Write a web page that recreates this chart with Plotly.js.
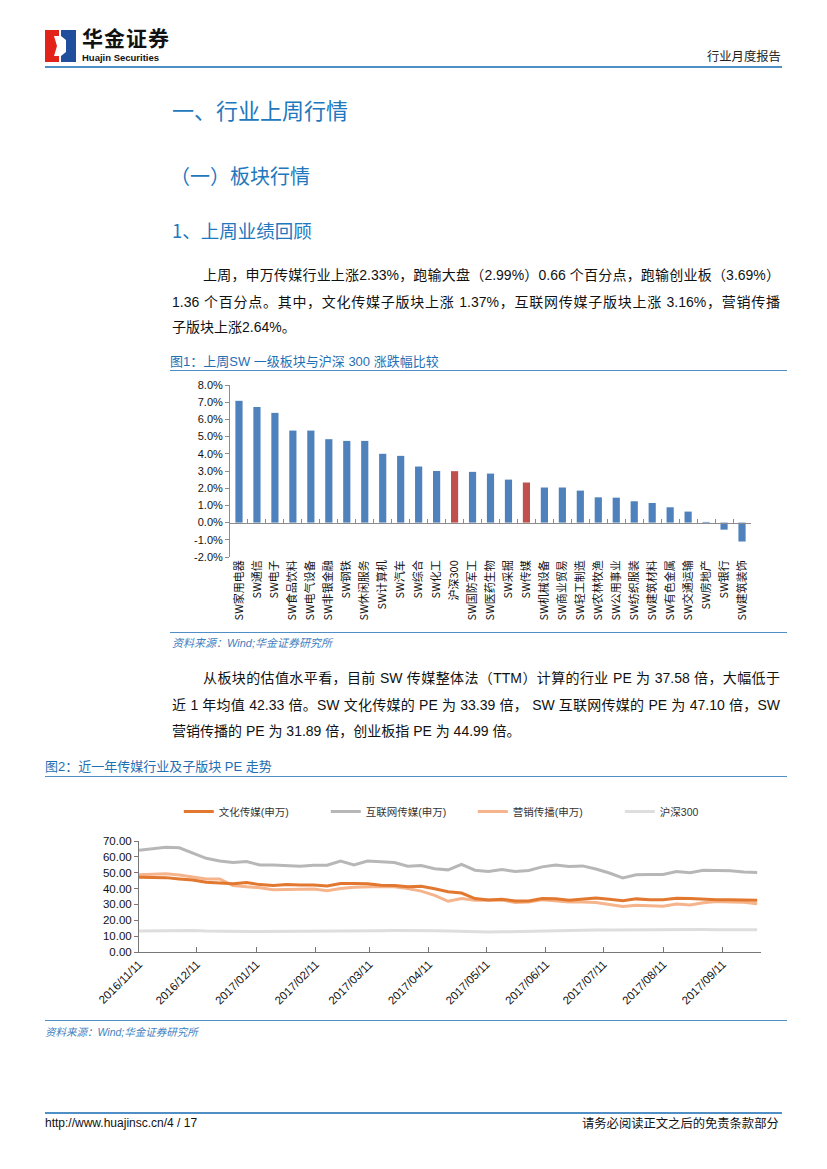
<!DOCTYPE html>
<html><head><meta charset="utf-8">
<script src="https://cdn.plot.ly/plotly-3.0.1.min.js"></script>
<style>
body{margin:0;width:827px;height:1169px;position:relative;background:#fff;font-family:"Liberation Sans","Noto Sans CJK SC",sans-serif;overflow:hidden;}
.a{position:absolute;white-space:nowrap;}
.hline{position:absolute;height:0;border-top:2px solid #4f8fc6;}
.h{color:#2178bd;font-family:"Noto Sans CJK SC",sans-serif;font-weight:400;}
.cap{color:#1f6fb2;font-size:13px;line-height:16px;}
.src{color:#3f7fc0;font-size:11px;font-style:italic;line-height:14px;}
.p{position:absolute;font-size:14px;line-height:20px;color:#111;white-space:nowrap;text-align:justify;text-align-last:justify;}
.p.last{text-align-last:left;}
</style></head>
<body>
<!-- header -->
<svg class="a" style="left:45px;top:30px" width="31" height="32" viewBox="0 0 31 32">
  <rect x="0" y="0" width="14" height="32" fill="#e2231a"/>
  <rect x="16" y="0" width="15" height="32" fill="#1f4e9c"/>
  <polygon points="9,6 14,6 14,26 9,26 12,16" fill="#fff"/>
  <polygon points="16,6 21,10 21,22 16,26" fill="#fff"/>
</svg>
<div class="a" style="left:82px;top:27px;font-size:21px;line-height:21px;font-weight:700;font-family:'Noto Sans CJK SC';color:#111;letter-spacing:1px">华金证券</div>
<div class="a" style="left:82px;top:53px;font-size:9.5px;line-height:10px;font-weight:700;color:#111">Huajin Securities</div>
<div class="a" style="left:707px;top:49px;font-size:12.3px;line-height:16px;color:#222">行业月度报告</div>
<div class="hline" style="left:45px;top:66px;width:737px"></div>

<div class="a h" style="left:172px;top:95px;font-size:22px;line-height:28px">一、行业上周行情</div>
<div class="a h" style="left:170px;top:162px;font-size:20px;line-height:28px">（一）板块行情</div>
<div class="a h" style="left:172px;top:218px;font-size:18.5px;line-height:24px">1、上周业绩回顾</div>

<div class="p" style="left:203px;top:265px;width:577px">上周，申万传媒行业上涨2.33%，跑输大盘（2.99%）0.66 个百分点，跑输创业板（3.69%）</div>
<div class="p" style="left:172px;top:292px;width:608px">1.36 个百分点。其中，文化传媒子版块上涨 1.37%，互联网传媒子版块上涨 3.16%，营销传播</div>
<div class="p last" style="left:172px;top:317px">子版块上涨2.64%。</div>

<div class="a cap" style="left:170px;top:354px">图1：上周SW 一级板块与沪深 300 涨跌幅比较</div>
<div class="hline" style="left:170px;top:370px;width:617px;border-top-width:1.5px"></div>
<div id="bar" class="a" style="left:170px;top:372px;width:617px;height:258px"></div>
<div class="hline" style="left:170px;top:632px;width:617px;border-top-width:1.5px"></div>
<div class="a src" style="left:172px;top:636px">资料来源：Wind;华金证券研究所</div>

<div class="p" style="left:203px;top:668px;width:577px">从板块的估值水平看，目前 SW 传媒整体法（TTM）计算的行业 PE 为 37.58 倍，大幅低于</div>
<div class="p" style="left:172px;top:695px;width:608px">近 1 年均值 42.33 倍。SW 文化传媒的 PE 为 33.39 倍， SW 互联网传媒的 PE 为 47.10 倍，SW</div>
<div class="p last" style="left:172px;top:721px">营销传播的 PE 为 31.89 倍，创业板指 PE 为 44.99 倍。</div>

<div class="a cap" style="left:45px;top:759px">图2：近一年传媒行业及子版块 PE 走势</div>
<div class="hline" style="left:45px;top:776px;width:742px;border-top-width:1.5px"></div>
<div id="line" class="a" style="left:45px;top:785px;width:742px;height:230px"></div>
<div class="hline" style="left:45px;top:1020px;width:742px;border-top-width:1.5px"></div>
<div class="a src" style="left:45px;top:1025px;font-size:10.5px">资料来源：Wind;华金证券研究所</div>

<div class="hline" style="left:45px;top:1112px;width:737px"></div>
<div class="a" style="left:45px;top:1115px;font-size:12px;line-height:16px;color:#111;font-family:'Liberation Sans Narrow','Liberation Sans'">http://www.huajinsc.cn/4 / 17</div>
<div class="a" style="left:582px;top:1115px;font-size:12.3px;line-height:16px;color:#111;font-family:'Noto Sans CJK SC'">请务必阅读正文之后的免责条款部分</div>

<script>
// ---------- Figure 1 data ----------
const sectors = ['SW家用电器','SW通信','SW电子','SW食品饮料','SW电气设备','SW非银金融','SW钢铁','SW休闲服务','SW计算机','SW汽车','SW综合','SW化工','沪深300','SW国防军工','SW医药生物','SW采掘','SW传媒','SW机械设备','SW商业贸易','SW轻工制造','SW农林牧渔','SW公用事业','SW纺织服装','SW建筑材料','SW有色金属','SW交通运输','SW房地产','SW银行','SW建筑装饰'];
const weeklyChange = [7.08,6.72,6.38,5.35,5.35,4.85,4.75,4.75,4.00,3.88,3.26,3.00,2.99,2.95,2.85,2.50,2.33,2.04,2.04,1.86,1.47,1.45,1.24,1.14,0.89,0.64,0.04,-0.41,-1.10];
const highlighted = ['沪深300','SW传媒'];
const barTickVals = [-2,-1,0,1,2,3,4,5,6,7,8];
const barTickText = ['-2.0%','-1.0%','0.0%','1.0%','2.0%','3.0%','4.0%','5.0%','6.0%','7.0%','8.0%'];

// ---------- Figure 2 data ----------
const dates = ['2016-11-11','2016-11-18','2016-11-25','2016-12-02','2016-12-09','2016-12-16','2016-12-23','2016-12-30','2017-01-06','2017-01-13','2017-01-20','2017-01-27','2017-02-03','2017-02-10','2017-02-17','2017-02-24','2017-03-03','2017-03-10','2017-03-17','2017-03-24','2017-03-31','2017-04-07','2017-04-14','2017-04-21','2017-04-28','2017-05-05','2017-05-12','2017-05-19','2017-05-26','2017-06-02','2017-06-09','2017-06-16','2017-06-23','2017-06-30','2017-07-07','2017-07-14','2017-07-21','2017-07-28','2017-08-04','2017-08-11','2017-08-18','2017-08-25','2017-09-01','2017-09-08','2017-09-15','2017-09-22','2017-09-29'];
const culturalMedia = [47.1,46.9,46.9,46.1,45.4,44.0,43.6,43.0,43.8,42.5,41.9,42.5,42.3,42.3,41.7,43.2,43.2,43.0,42.1,41.9,41.1,41.5,39.9,38.0,37.2,33.7,32.8,33.3,32.2,32.2,33.7,33.6,32.6,33.3,34.1,33.3,32.4,33.5,33.0,33.0,33.9,33.7,33.3,33.0,33.0,32.8,32.6];
const internetMedia = [64.2,65.0,66.1,65.7,62.2,59.1,57.4,56.4,57.0,54.9,54.9,54.5,54.1,54.7,54.7,57.4,54.9,57.4,56.8,56.4,54.1,54.5,52.5,51.8,55.3,51.6,50.8,52.0,50.8,51.4,53.7,54.8,53.9,54.3,52.3,49.8,46.7,48.7,48.9,48.9,50.8,50.0,51.6,51.6,51.2,50.4,50.2];
const marketingMedia = [48.7,49.2,49.4,48.5,47.3,46.1,46.1,41.9,41.1,40.5,39.2,39.4,39.7,39.7,38.6,40.1,40.9,41.3,41.3,41.1,40.1,38.4,35.7,32.0,33.7,32.6,32.6,32.8,31.2,31.6,33.0,32.4,31.6,31.6,31.2,30.0,28.7,29.5,29.1,28.9,30.2,29.7,31.0,31.8,31.6,31.4,30.4];
const hs300 = [13.2,13.3,13.5,13.6,13.5,13.2,13.0,12.9,12.9,13.0,13.0,13.0,13.1,13.1,13.2,13.3,13.3,13.3,13.4,13.5,13.6,13.6,13.4,13.2,12.9,12.7,12.6,12.7,12.9,13.1,13.3,13.5,13.6,13.7,13.8,13.8,13.9,13.9,13.9,13.9,14.0,14.1,14.2,14.1,14.0,14.0,14.0];
const seriesNames = ['文化传媒(申万)','互联网传媒(申万)','营销传播(申万)','沪深300'];
const dateTicks = ['2016-11-11','2016-12-11','2017-01-11','2017-02-11','2017-03-11','2017-04-11','2017-05-11','2017-06-11','2017-07-11','2017-08-11','2017-09-11'];
const dateTickText = ['2016/11/11','2016/12/11','2017/01/11','2017/02/11','2017/03/11','2017/04/11','2017/05/11','2017/06/11','2017/07/11','2017/08/11','2017/09/11'];
const peTicks = [0,10,20,30,40,50,60,70];

const cjk = '"Liberation Sans","Noto Sans CJK SC",sans-serif';

// ---------- Bar chart ----------
Plotly.newPlot('bar', [
  {type:'bar', x:sectors, y:weeklyChange, width:0.4,
   marker:{color:sectors.map(s=>highlighted.includes(s)?'#c0504d':'#4f81bd')},
   hoverinfo:'x+y'},
  {type:'scatter', mode:'markers', x:sectors, y:sectors.map(()=>null), xaxis:'x2', showlegend:false, hoverinfo:'skip'}
], {
  width:617, height:258,
  margin:{l:60,r:36,t:13,b:73},
  paper_bgcolor:'rgba(0,0,0,0)', plot_bgcolor:'rgba(0,0,0,0)',
  showlegend:false,
  font:{family:cjk, size:11, color:'#111'},
  xaxis:{type:'category', range:[-0.5,28.5], showline:false, ticks:'', tickangle:-90, tickfont:{size:11, family:'"Noto Sans CJK SC",sans-serif'}, showgrid:false, zeroline:false, automargin:false},
  xaxis2:{type:'category', overlaying:'x', anchor:'free', position:0.2, side:'bottom', range:[-0.5,28.5], showline:true, linecolor:'#8c8c8c', linewidth:1, ticks:'inside', tickson:'boundaries', ticklen:4, tickcolor:'#8c8c8c', showticklabels:false, showgrid:false, zeroline:false},
  yaxis:{range:[-2,8], tickvals:barTickVals, ticktext:barTickText, ticks:'outside', ticklen:4, tickcolor:'#8c8c8c', showline:true, linecolor:'#8c8c8c', linewidth:1, showgrid:false, zeroline:false, tickfont:{size:11}, automargin:false}
}, {displayModeBar:false, staticPlot:true});

// ---------- Line chart ----------
const lineStyles = [
  {c:'#e2782f', w:3, rank:1},
  {c:'#b7b7b7', w:3, rank:2},
  {c:'#f5b48c', w:3, rank:3},
  {c:'#dedede', w:3, rank:4}
];
const seriesData = [culturalMedia, internetMedia, marketingMedia, hs300];
const drawOrder = [3,1,2,0];
const traces = drawOrder.map(i=>({
  type:'scatter', mode:'lines', x:dates, y:seriesData[i], name:seriesNames[i],
  line:{color:lineStyles[i].c, width:lineStyles[i].w}, legendrank:lineStyles[i].rank
}));
Plotly.newPlot('line', traces, {
  width:742, height:230,
  margin:{l:93.7,r:26.3,t:54,b:63},
  paper_bgcolor:'rgba(0,0,0,0)', plot_bgcolor:'rgba(0,0,0,0)',
  font:{family:cjk, size:11.5, color:'#111'},
  showlegend:true,
  legend:{orientation:'h', x:0.064, xanchor:'left', y:1.265, yanchor:'middle', font:{size:10.5, color:'#333'}, entrywidth:102, bgcolor:'rgba(0,0,0,0)'},
  xaxis:{type:'date', range:['2016-11-11','2017-10-01'], tickvals:dateTicks, ticktext:dateTickText, tickangle:-45, ticks:'inside', ticklen:5, tickcolor:'#777', showline:true, linecolor:'#777', linewidth:1, showgrid:false, zeroline:false, tickfont:{size:11.5}, automargin:false},
  yaxis:{range:[0,70], tickvals:peTicks, tickformat:'.2f', ticks:'outside', ticklen:4, tickcolor:'#777', showline:true, linecolor:'#777', linewidth:1, showgrid:false, zeroline:false, tickfont:{size:11.5}, automargin:false}
}, {displayModeBar:false, staticPlot:true});
</script>
</body></html>
